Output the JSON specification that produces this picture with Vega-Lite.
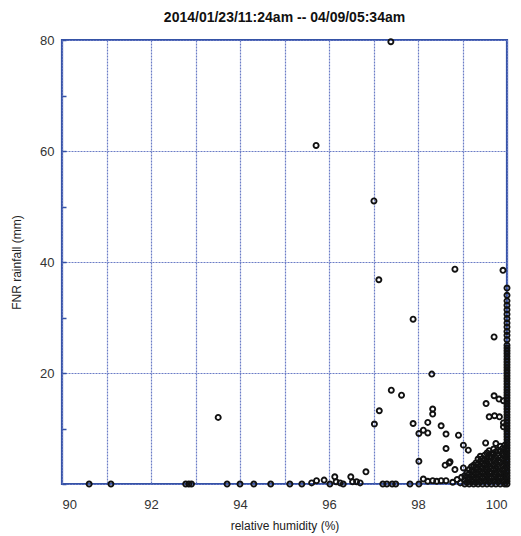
{
  "$schema": "https://vega.github.io/schema/vega-lite/v6.json",
  "width": 445,
  "height": 444,
  "autosize": {"type": "none"},
  "padding": {"left": 62, "top": 40, "right": 14, "bottom": 52},
  "background": "white",
  "config": {
    "view": {"stroke": "#3552a6", "strokeWidth": 2.2},
    "font": "Liberation Sans"
  },
  "title": {
    "text": "2014/01/23/11:24am -- 04/09/05:34am",
    "font": "Liberation Sans",
    "fontSize": 14,
    "fontWeight": "bold",
    "color": "#111111",
    "offset": 9,
    "anchor": "middle"
  },
  "data": {
    "values": [
      {"rh": 90.61, "rain": 0}, {"rh": 91.10, "rain": 0}, {"rh": 92.78, "rain": 0}, {"rh": 92.85, "rain": 0},
      {"rh": 92.91, "rain": 0}, {"rh": 93.51, "rain": 12.0}, {"rh": 93.71, "rain": 0}, {"rh": 94.0, "rain": 0},
      {"rh": 94.31, "rain": 0}, {"rh": 94.69, "rain": 0}, {"rh": 95.12, "rain": 0}, {"rh": 95.39, "rain": 0},
      {"rh": 95.61, "rain": 0.2}, {"rh": 95.72, "rain": 0.6}, {"rh": 95.89, "rain": 0.7}, {"rh": 95.71, "rain": 61.0},
      {"rh": 96.02, "rain": 0}, {"rh": 96.13, "rain": 1.3}, {"rh": 96.16, "rain": 0.4}, {"rh": 96.25, "rain": 0.2},
      {"rh": 96.32, "rain": 0}, {"rh": 96.49, "rain": 1.3}, {"rh": 96.53, "rain": 0.4}, {"rh": 96.62, "rain": 0.4},
      {"rh": 96.70, "rain": 0.2}, {"rh": 96.83, "rain": 2.2}, {"rh": 97.01, "rain": 51.0}, {"rh": 97.02, "rain": 10.8},
      {"rh": 97.12, "rain": 36.8}, {"rh": 97.13, "rain": 13.2}, {"rh": 97.21, "rain": 0}, {"rh": 97.30, "rain": 0},
      {"rh": 97.39, "rain": 79.7}, {"rh": 97.40, "rain": 16.9}, {"rh": 97.42, "rain": 0}, {"rh": 97.50, "rain": 0},
      {"rh": 97.63, "rain": 16.0}, {"rh": 97.82, "rain": 0}, {"rh": 97.89, "rain": 29.7}, {"rh": 97.89, "rain": 10.9},
      {"rh": 98.02, "rain": 9.1}, {"rh": 98.02, "rain": 4.1}, {"rh": 98.02, "rain": 0}, {"rh": 98.12, "rain": 9.7},
      {"rh": 98.12, "rain": 0.9}, {"rh": 98.22, "rain": 9.2}, {"rh": 98.22, "rain": 11.1}, {"rh": 98.22, "rain": 0.5},
      {"rh": 98.31, "rain": 19.8}, {"rh": 98.33, "rain": 13.5}, {"rh": 98.33, "rain": 12.6}, {"rh": 98.33, "rain": 0.6},
      {"rh": 98.42, "rain": 0.5}, {"rh": 98.52, "rain": 10.5}, {"rh": 98.52, "rain": 0.6}, {"rh": 98.61, "rain": 3.4},
      {"rh": 98.63, "rain": 9.0}, {"rh": 98.63, "rain": 6.4}, {"rh": 98.63, "rain": 0.6}, {"rh": 98.70, "rain": 3.8},
      {"rh": 98.72, "rain": 4.0}, {"rh": 98.83, "rain": 38.7}, {"rh": 98.83, "rain": 2.6}, {"rh": 98.91, "rain": 8.8},
      {"rh": 98.78, "rain": 0.3}, {"rh": 98.88, "rain": 0.8}, {"rh": 98.95, "rain": 0.2}, {"rh": 98.98, "rain": 1.2},
      {"rh": 99.02, "rain": 7.0}, {"rh": 99.02, "rain": 2.9}, {"rh": 99.13, "rain": 6.1}, {"rh": 99.52, "rain": 7.4},
      {"rh": 99.53, "rain": 14.5}, {"rh": 99.60, "rain": 12.1}, {"rh": 99.71, "rain": 15.9}, {"rh": 99.71, "rain": 26.5},
      {"rh": 99.72, "rain": 12.3}, {"rh": 99.82, "rain": 15.3}, {"rh": 99.83, "rain": 12.1}, {"rh": 99.91, "rain": 38.5},
      {"rh": 99.92, "rain": 15.0}, {"rh": 99.92, "rain": 11.0}, {"rh": 99.92, "rain": 10.3},
      {"rh": 99.05, "rain": 0}, {"rh": 99.05, "rain": 0.8}, {"rh": 99.05, "rain": 1.5},
      {"rh": 99.10, "rain": 0.3}, {"rh": 99.10, "rain": 1.2}, {"rh": 99.10, "rain": 2.0},
      {"rh": 99.15, "rain": 0}, {"rh": 99.15, "rain": 0.9}, {"rh": 99.15, "rain": 1.8}, {"rh": 99.15, "rain": 2.6},
      {"rh": 99.20, "rain": 0.4}, {"rh": 99.20, "rain": 1.3}, {"rh": 99.20, "rain": 2.2}, {"rh": 99.20, "rain": 3.1},
      {"rh": 99.25, "rain": 0}, {"rh": 99.25, "rain": 0.8}, {"rh": 99.25, "rain": 1.7}, {"rh": 99.25, "rain": 2.5}, {"rh": 99.25, "rain": 3.4},
      {"rh": 99.30, "rain": 0.3}, {"rh": 99.30, "rain": 1.2}, {"rh": 99.30, "rain": 2.1}, {"rh": 99.30, "rain": 3.0}, {"rh": 99.30, "rain": 3.8},
      {"rh": 99.35, "rain": 0}, {"rh": 99.35, "rain": 0.9}, {"rh": 99.35, "rain": 1.8}, {"rh": 99.35, "rain": 2.7}, {"rh": 99.35, "rain": 3.6}, {"rh": 99.35, "rain": 4.5},
      {"rh": 99.40, "rain": 0.4}, {"rh": 99.40, "rain": 1.4}, {"rh": 99.40, "rain": 2.3}, {"rh": 99.40, "rain": 3.2}, {"rh": 99.40, "rain": 4.1}, {"rh": 99.40, "rain": 5.0},
      {"rh": 99.45, "rain": 0}, {"rh": 99.45, "rain": 1.0}, {"rh": 99.45, "rain": 1.9}, {"rh": 99.45, "rain": 2.8}, {"rh": 99.45, "rain": 3.7}, {"rh": 99.45, "rain": 4.6},
      {"rh": 99.50, "rain": 0.5}, {"rh": 99.50, "rain": 1.4}, {"rh": 99.50, "rain": 2.3}, {"rh": 99.50, "rain": 3.3}, {"rh": 99.50, "rain": 4.2}, {"rh": 99.50, "rain": 5.2},
      {"rh": 99.55, "rain": 0}, {"rh": 99.55, "rain": 0.9}, {"rh": 99.55, "rain": 1.8}, {"rh": 99.55, "rain": 2.7}, {"rh": 99.55, "rain": 3.7}, {"rh": 99.55, "rain": 4.7}, {"rh": 99.55, "rain": 5.6},
      {"rh": 99.60, "rain": 0.4}, {"rh": 99.60, "rain": 1.3}, {"rh": 99.60, "rain": 2.2}, {"rh": 99.60, "rain": 3.2}, {"rh": 99.60, "rain": 4.1}, {"rh": 99.60, "rain": 5.0}, {"rh": 99.60, "rain": 6.0},
      {"rh": 99.65, "rain": 0}, {"rh": 99.65, "rain": 1.0}, {"rh": 99.65, "rain": 1.9}, {"rh": 99.65, "rain": 2.8}, {"rh": 99.65, "rain": 3.8}, {"rh": 99.65, "rain": 4.8}, {"rh": 99.65, "rain": 5.5},
      {"rh": 99.70, "rain": 0.5}, {"rh": 99.70, "rain": 1.4}, {"rh": 99.70, "rain": 2.4}, {"rh": 99.70, "rain": 3.3}, {"rh": 99.70, "rain": 4.3}, {"rh": 99.70, "rain": 5.3}, {"rh": 99.70, "rain": 6.3},
      {"rh": 99.75, "rain": 0}, {"rh": 99.75, "rain": 0.9}, {"rh": 99.75, "rain": 1.8}, {"rh": 99.75, "rain": 2.8}, {"rh": 99.75, "rain": 3.8}, {"rh": 99.75, "rain": 4.7}, {"rh": 99.75, "rain": 5.8}, {"rh": 99.75, "rain": 7.3},
      {"rh": 99.80, "rain": 0.4}, {"rh": 99.80, "rain": 1.3}, {"rh": 99.80, "rain": 2.3}, {"rh": 99.80, "rain": 3.2}, {"rh": 99.80, "rain": 4.2}, {"rh": 99.80, "rain": 5.1}, {"rh": 99.80, "rain": 6.1},
      {"rh": 99.85, "rain": 0}, {"rh": 99.85, "rain": 1.0}, {"rh": 99.85, "rain": 1.9}, {"rh": 99.85, "rain": 2.9}, {"rh": 99.85, "rain": 3.9}, {"rh": 99.85, "rain": 4.8}, {"rh": 99.85, "rain": 5.9}, {"rh": 99.85, "rain": 6.8},
      {"rh": 99.90, "rain": 0.5}, {"rh": 99.90, "rain": 1.4}, {"rh": 99.90, "rain": 2.4}, {"rh": 99.90, "rain": 3.3}, {"rh": 99.90, "rain": 4.4}, {"rh": 99.90, "rain": 5.4}, {"rh": 99.90, "rain": 6.4},
      {"rh": 99.95, "rain": 0}, {"rh": 99.95, "rain": 0.9}, {"rh": 99.95, "rain": 1.9}, {"rh": 99.95, "rain": 2.8}, {"rh": 99.95, "rain": 3.8}, {"rh": 99.95, "rain": 4.9}, {"rh": 99.95, "rain": 5.9}, {"rh": 99.95, "rain": 7.0},
      {"rh": 100, "rain": 0}, {"rh": 100, "rain": 0.5}, {"rh": 100, "rain": 1.0}, {"rh": 100, "rain": 1.5}, {"rh": 100, "rain": 2.0},
      {"rh": 100, "rain": 2.5}, {"rh": 100, "rain": 3.0}, {"rh": 100, "rain": 3.5}, {"rh": 100, "rain": 4.0}, {"rh": 100, "rain": 4.5},
      {"rh": 100, "rain": 5.0}, {"rh": 100, "rain": 5.5}, {"rh": 100, "rain": 6.0}, {"rh": 100, "rain": 6.5}, {"rh": 100, "rain": 7.0},
      {"rh": 100, "rain": 7.5}, {"rh": 100, "rain": 8.0}, {"rh": 100, "rain": 8.5}, {"rh": 100, "rain": 9.0}, {"rh": 100, "rain": 9.5},
      {"rh": 100, "rain": 10.0}, {"rh": 100, "rain": 10.5}, {"rh": 100, "rain": 11.0}, {"rh": 100, "rain": 11.5}, {"rh": 100, "rain": 12.0},
      {"rh": 100, "rain": 12.5}, {"rh": 100, "rain": 13.0}, {"rh": 100, "rain": 13.5}, {"rh": 100, "rain": 14.0}, {"rh": 100, "rain": 14.5},
      {"rh": 100, "rain": 15.0}, {"rh": 100, "rain": 15.5}, {"rh": 100, "rain": 16.0}, {"rh": 100, "rain": 16.5}, {"rh": 100, "rain": 17.0},
      {"rh": 100, "rain": 17.5}, {"rh": 100, "rain": 18.0}, {"rh": 100, "rain": 18.5}, {"rh": 100, "rain": 19.0}, {"rh": 100, "rain": 19.5},
      {"rh": 100, "rain": 20.0}, {"rh": 100, "rain": 20.5}, {"rh": 100, "rain": 21.0}, {"rh": 100, "rain": 21.5}, {"rh": 100, "rain": 22.0},
      {"rh": 100, "rain": 22.5}, {"rh": 100, "rain": 23.0}, {"rh": 100, "rain": 23.5}, {"rh": 100, "rain": 24.0}, {"rh": 100, "rain": 24.5},
      {"rh": 100, "rain": 25.0}, {"rh": 100, "rain": 26.0}, {"rh": 100, "rain": 26.8}, {"rh": 100, "rain": 27.5}, {"rh": 100, "rain": 28.3},
      {"rh": 100, "rain": 29.0}, {"rh": 100, "rain": 29.8}, {"rh": 100, "rain": 30.6}, {"rh": 100, "rain": 31.4}, {"rh": 100, "rain": 32.2},
      {"rh": 100, "rain": 33.0}, {"rh": 100, "rain": 34.0}, {"rh": 100, "rain": 35.3}
    ]
  },
  "layer": [
    {
      "mark": {"type": "point", "filled": false, "stroke": "#111111", "strokeWidth": 1.9, "size": 26, "opacity": 1, "clip": false},
      "encoding": {
        "x": {
          "field": "rh", "type": "quantitative",
          "scale": {"domain": [90, 100], "nice": false, "zero": false},
          "axis": {
            "title": "relative humidity  (%)",
            "titleFont": "Liberation Sans", "titleFontSize": 12, "titleFontWeight": "normal", "titleColor": "#222222", "titlePadding": 9,
            "values": [90, 91, 92, 93, 94, 95, 96, 97, 98, 99, 100],
            "labelExpr": "datum.value % 2 === 0 ? datum.label : ''",
            "labelFont": "Liberation Sans", "labelFontSize": 13, "labelColor": "#333333", "labelPadding": 14,
            "domain": false, "ticks": false,
            "grid": true, "gridColor": "#6b7cc6", "gridDash": [2, 1], "gridWidth": 1.2, "gridOpacity": 1
          }
        },
        "y": {
          "field": "rain", "type": "quantitative",
          "scale": {"domain": [0, 80], "nice": false, "zero": true},
          "axis": {
            "title": "FNR rainfall (mm)",
            "titleFont": "Liberation Sans", "titleFontSize": 12, "titleFontWeight": "normal", "titleColor": "#222222", "titlePadding": 16,
            "values": [0, 10, 20, 30, 40, 50, 60, 70, 80],
            "labelExpr": "datum.value % 20 === 0 && datum.value > 0 ? datum.label : ''",
            "labelFont": "Liberation Sans", "labelFontSize": 13, "labelColor": "#333333", "labelPadding": 12,
            "domain": false, "ticks": true, "tickSize": -4, "tickColor": "#3552a6", "tickWidth": 1.5,
            "grid": true, "gridColor": "#6b7cc6", "gridDash": [2, 1], "gridWidth": 1.2,
            "gridOpacity": {"condition": {"test": "datum.value % 20 === 0", "value": 1}, "value": 0}
          }
        }
      }
    }
  ]
}
